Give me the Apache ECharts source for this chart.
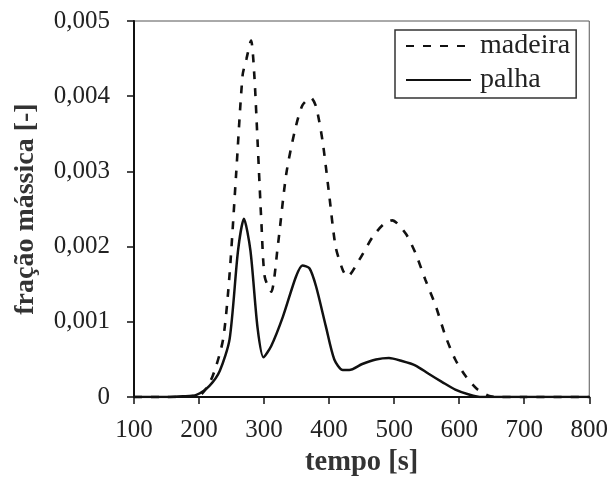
<!DOCTYPE html>
<html>
<head>
<meta charset="utf-8">
<script src="https://cdn.jsdelivr.net/npm/echarts@6/dist/echarts.min.js"></script>
<style>html,body{margin:0;padding:0;background:#fff}#c{width:611px;height:482px}</style>
</head>
<body>
<div id="c"></div>
<script>
var seriesNames = ['madeira', 'palha'];
var madeiraT = [100,150,185,204,221,237,247,257,267,273,280,285,290,296,301,311,321,334,347,359,372,380,390,400,410,421,428,446,467,484,497,518,533,548,564,579,594,609,627,645,660,700,800];
var madeiraY = [0,0,0.00001,0.00004,0.00028,0.00077,0.00164,0.00296,0.00428,0.0045,0.00474,0.00428,0.0034,0.0023,0.0016,0.0014,0.002,0.00296,0.00353,0.00388,0.00398,0.00386,0.0034,0.0027,0.002,0.00169,0.0016,0.00182,0.00213,0.0023,0.00235,0.00217,0.00191,0.00156,0.00121,0.00081,0.0005,0.00029,0.00011,0.00002,0,0,0];
var palhaT = [100,150,175,196,216,232,247,260,269,279,290,299,311,329,349,359,370,380,395,408,421,431,451,472,492,512,533,553,574,594,615,635,700,800];
var palhaY = [0,0,0.00001,0.00003,0.00015,0.00035,0.00077,0.00195,0.00237,0.00195,0.00092,0.00053,0.00068,0.00107,0.0016,0.00175,0.00171,0.00147,0.00094,0.0005,0.00036,0.00036,0.00044,0.0005,0.00052,0.00048,0.00042,0.00031,0.0002,0.0001,0.000035,0,0,0];
var xTitle = 'tempo [s]';
var yTitle = 'fração mássica [-]';

function zip(a, b) { return a.map(function (v, i) { return [v, b[i]]; }); }
var FONT = 'Liberation Serif';
var chart = echarts.init(document.getElementById('c'), null, {renderer: 'canvas'});
chart.setOption({
  animation: false,
  backgroundColor: '#fff',
  grid: {left: 134, right: 20, top: 21, bottom: 80, show: true, borderColor: '#555', borderWidth: 1},
  legend: {
    left: 395, top: 30, orient: 'vertical',
    data: seriesNames,
    borderColor: '#333', borderWidth: 1.5,
    padding: [2, 6, 4, 10],
    itemWidth: 65, itemHeight: 20, itemGap: 6,
    itemStyle: {opacity: 0},
    textStyle: {fontFamily: FONT, fontSize: 28, color: '#222', padding: [0, 0, 0, 4]}
  },
  xAxis: {
    type: 'value', min: 100, max: 800, interval: 100,
    name: xTitle, nameLocation: 'middle', nameGap: 50,
    nameTextStyle: {fontFamily: FONT, fontSize: 28.5, fontWeight: 'bold', color: '#333'},
    axisLine: {lineStyle: {color: '#111', width: 2}},
    axisTick: {show: true, length: 7, lineStyle: {color: '#111', width: 1.5}},
    axisLabel: {fontFamily: FONT, fontSize: 25, color: '#222', margin: 21},
    splitLine: {show: false}
  },
  yAxis: {
    type: 'value', min: 0, max: 0.005, interval: 0.001,
    name: yTitle, nameLocation: 'middle', nameGap: 94,
    nameTextStyle: {fontFamily: FONT, fontSize: 28, fontWeight: 'bold', color: '#333'},
    axisLine: {show: true, lineStyle: {color: '#111', width: 2}},
    axisTick: {show: true, length: 7, lineStyle: {color: '#111', width: 1.5}},
    axisLabel: {fontFamily: FONT, fontSize: 25, color: '#222', margin: 24,
      formatter: function (v) { return v === 0 ? '0' : v.toFixed(3).replace('.', ','); }},
    splitLine: {show: false}
  },
  series: [
    {name: seriesNames[0], type: 'line', data: zip(madeiraT, madeiraY), symbol: 'none', smooth: 0.25,
     lineStyle: {color: '#111', width: 2.6, type: [8, 9]}, itemStyle: {color: '#111'}},
    {name: seriesNames[1], type: 'line', data: zip(palhaT, palhaY), symbol: 'none', smooth: 0.25,
     lineStyle: {color: '#111', width: 2.5, type: 'solid'}, itemStyle: {color: '#111'}}
  ]
});
</script>
</body>
</html>
